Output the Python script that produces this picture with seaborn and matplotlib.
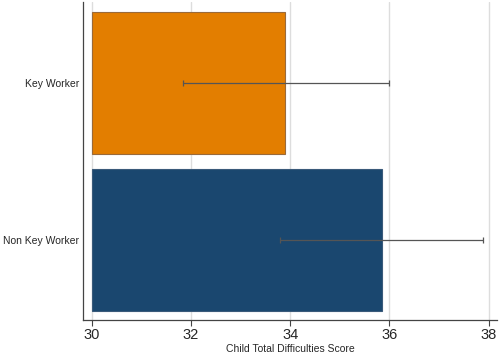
import seaborn as sns
import matplotlib.pyplot as plt
import numpy as np
import pandas as pd

# data
groups = ['Key Worker', 'Non Key Worker']
scores = [33.9, 35.85]
ci_low = [31.83, 33.8]
ci_high = [35.99, 37.88]
bar_colors = ['#e37e00', '#1a476f']
base = 30

df = pd.DataFrame({'group': groups, 'score': scores})

sns.set_style('white')
plt.rcParams['font.family'] = ['Liberation Sans', 'DejaVu Sans']
fig = plt.figure(figsize=(5, 3.61), dpi=100)
ax = fig.add_axes([0.166, 0.114, 0.828, 0.881])

sns.barplot(data=df, x='score', y='group', hue='group', palette=bar_colors,
            saturation=1, width=0.9, legend=False, edgecolor='#9a6a3a',
            linewidth=0.8, ax=ax)

# Stata style: bars start at 30, not 0
for p, v in zip(ax.patches, scores):
    p.set_x(base)
    p.set_width(v - base)
ax.patches[1].set_edgecolor('#3a5a7a')

# confidence intervals
mid = (np.array(ci_low) + np.array(ci_high)) / 2
half = (np.array(ci_high) - np.array(ci_low)) / 2
ax.errorbar(mid, np.arange(len(groups)), xerr=half, fmt='none',
            ecolor='#555555', elinewidth=0.9, capsize=2.5, capthick=0.9)

ax.set_xlim(29.82, 38.17)
ax.set_ylim(1.505, -0.515)
ax.set_xticks([30, 32, 34, 36, 38])
ax.xaxis.grid(True, color='#dddddd', linewidth=1)
ax.set_axisbelow(True)

ax.set_xlabel('Child Total Difficulties Score', fontsize=7.5, labelpad=1)
ax.set_ylabel('')
ax.tick_params(axis='x', labelsize=10.5, length=4, width=0.8, color='#444444',
               direction='out', bottom=True, pad=2)
ax.tick_params(axis='y', labelsize=7.5, length=0, pad=3)

for s in ['top', 'right']:
    ax.spines[s].set_visible(False)
for s in ['left', 'bottom']:
    ax.spines[s].set_color('#444444')
    ax.spines[s].set_linewidth(0.9)

plt.savefig('out.png', dpi=100)
